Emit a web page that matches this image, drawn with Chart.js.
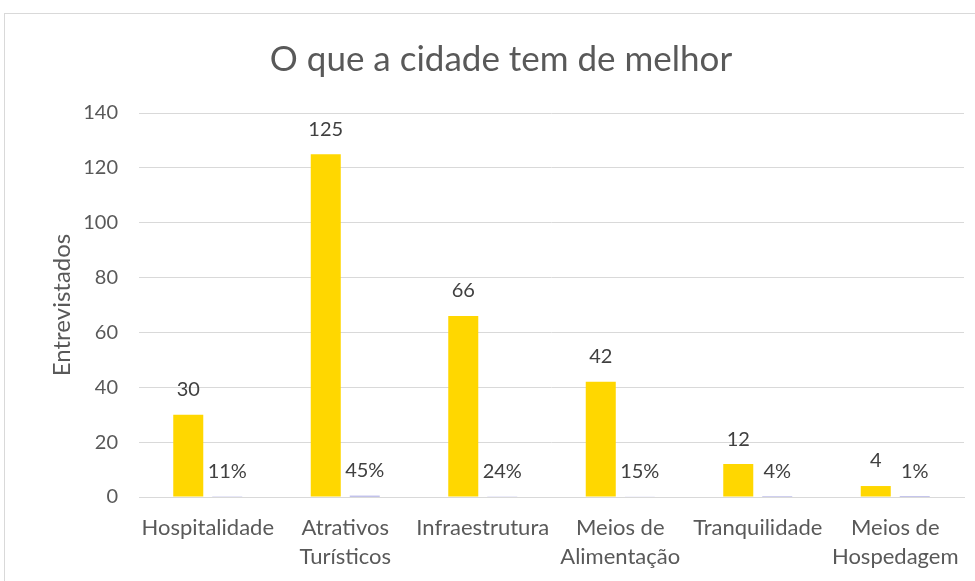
<!DOCTYPE html>
<html lang="pt">
<head>
<meta charset="utf-8">
<title>O que a cidade tem de melhor</title>
<script src="https://cdn.jsdelivr.net/npm/chart.js@4.4.1/dist/chart.umd.min.js"></script>
<style>
  html, body { margin: 0; padding: 0; background: #fff; overflow: hidden; }
  #wrap { position: relative; width: 975px; height: 581px; }
  #frame {
    position: absolute; left: 4px; top: 13px; width: 1000px; height: 600px;
    border: 1px solid #d9d9d9; pointer-events: none;
  }
  canvas { position: absolute; left: 0; top: 0; }
</style>
</head>
<body>
<div id="wrap">
  <canvas id="chart" width="975" height="581"></canvas>
  <div id="frame"></div>
</div>
<script>
const categorias = [
  "Hospitalidade",
  ["Atrativos", "Turísticos"],
  "Infraestrutura",
  ["Meios de", "Alimentação"],
  "Tranquilidade",
  ["Meios de", "Hospedagem"],
];
const entrevistados = [30, 125, 66, 42, 12, 4];
const percentual = [0.11, 0.45, 0.24, 0.15, 0.04, 0.01];
const ticksY = { min: 0, max: 140, step: 20 };

const fonte = "Lato, 'Noto Sans', sans-serif";

// writes each bar's value above it (percent series shown as "NN%")
const rotulos = {
  id: "rotulos",
  afterDatasetsDraw(chart) {
    const ctx = chart.ctx;
    ctx.save();
    ctx.font = "20px " + fonte;
    ctx.fillStyle = "#404040";
    ctx.textAlign = "center";
    ctx.textBaseline = "middle";
    chart.data.datasets.forEach((ds, i) => {
      chart.getDatasetMeta(i).data.forEach((bar, j) => {
        const v = ds.data[j];
        const txt = ds.percent ? Math.round(v * 100) + "%" : String(v);
        ctx.fillText(txt, bar.x, bar.y - 25);
      });
    });
    ctx.restore();
  },
};

new Chart(document.getElementById("chart"), {
  type: "bar",
  data: {
    labels: categorias,
    datasets: [
      {
        label: "Entrevistados",
        data: entrevistados,
        backgroundColor: "#ffd700",
      },
      {
        label: "%",
        data: percentual,
        percent: true,
        backgroundColor: "#8585d6",
      },
    ],
  },
  options: {
    responsive: false,
    animation: false,
    categoryPercentage: 0.567,
    barPercentage: 0.77,
    layout: { padding: { left: 38, right: 11, top: 0, bottom: 0 } },
    plugins: {
      legend: { display: false },
      tooltip: { enabled: false },
      title: {
        display: true,
        text: "O que a cidade tem de melhor",
        color: "#595959",
        font: { family: fonte, size: 35, weight: "normal" },
        padding: { top: 39, bottom: 32 },
      },
    },
    scales: {
      x: {
        grid: { display: false },
        border: { display: true, color: "#d9d9d9" },
        ticks: {
          color: "#595959",
          font: { family: fonte, size: 22, lineHeight: 1.32 },
          padding: 8,
          maxRotation: 0,
          autoSkip: false,
        },
        afterFit: (s) => { s.height = 84; },
      },
      y: {
        min: ticksY.min,
        max: ticksY.max,
        grid: { color: "#d9d9d9", drawTicks: false },
        border: { display: false },
        ticks: {
          stepSize: ticksY.step,
          color: "#595959",
          font: { family: fonte, size: 20 },
          padding: 21,
        },
        title: {
          display: true,
          text: "Entrevistados",
          color: "#595959",
          font: { family: fonte, size: 24 },
          padding: { top: 10 },
        },
        afterFit: (s) => { s.width = 101; },
      },
    },
  },
  plugins: [rotulos],
});
</script>
</body>
</html>
